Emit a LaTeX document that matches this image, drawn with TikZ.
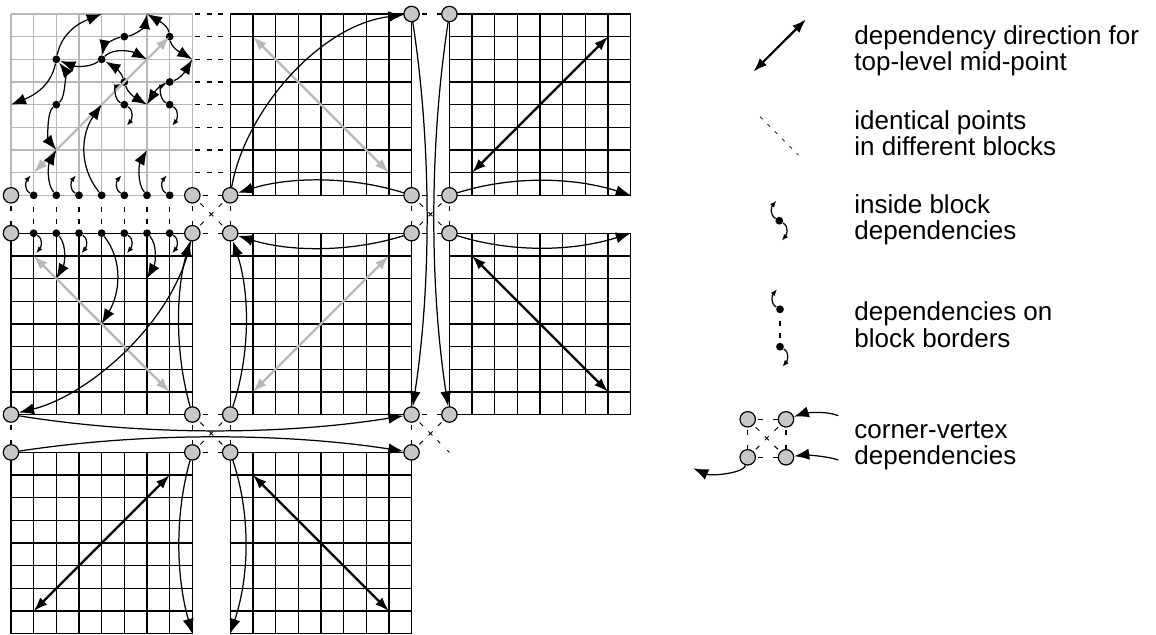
\documentclass[tikz,border=0pt]{standalone}
\usepackage{fontspec}
\setmainfont{Liberation Sans}
\usetikzlibrary{arrows.meta,shapes.misc,calc}
\definecolor{cfill}{gray}{0.78}
\definecolor{lgray}{gray}{0.72}
\begin{document}
\begin{tikzpicture}[x=0.5pt,y=-0.5pt,
  gridline/.style={line width=0.68pt},
  cvert/.style={circle,draw,line width=0.6pt,fill=cfill,minimum size=7.7pt,inner sep=0pt},
  bdot/.style={circle,fill=black,minimum size=3.9pt,inner sep=0pt},
  xmark/.style={cross out,draw,line width=0.4pt,minimum size=1.6pt,inner sep=0pt},
  dep/.style={line width=0.62pt,-{Latex[length=7.5pt,width=5.6pt]}},
  sdep/.style={line width=0.62pt,-{Latex[length=3.3pt,width=2.6pt]}},
  topdir/.style={line width=1.1pt,{Latex[length=7pt,width=5pt]}-{Latex[length=7pt,width=5pt]}},
  topdirg/.style={topdir,draw=lgray},
  rowdash/.style={line width=0.6pt,dash pattern=on 2.5pt off 3.35pt,dash phase=4.5pt},
  coldash/.style={line width=0.6pt,dash pattern=on 2.5pt off 3.5pt,dash phase=2.5pt},
  pairdash/.style={line width=0.6pt,dash pattern=on 0pt off 1pt on 2.5pt off 5pt on 2.5pt off 20pt},
  diagdash/.style={line width=0.5pt,dash pattern=on 0pt off 1.5pt on 2.5pt off 30pt},
  enddash/.style={line width=0.5pt,dash pattern=on 1.5pt off 5pt on 2pt off 20pt},
  legdash/.style={line width=0.4pt,dash pattern=on 1.8pt off 3.4pt},
  legtext/.style={anchor=base west,inner sep=0pt,font=\fontsize{13}{15}\selectfont},
]
\useasboundingbox (0,0) rectangle (1156,635);

% grid point coordinates of the blocks
\foreach \bx/\X in {0/11,1/230.2,2/449.4}
 \foreach \by/\Y in {0/14,1/233.2,2/452.4}
  \foreach \i in {0,...,8}
   \foreach \j in {0,...,8}
    \coordinate (p\bx\by-\i-\j) at ({\X+\i*22.667},{\Y+\j*22.667});

% grids
\foreach \X/\Y/\col in {11/14/lgray,230.2/14/black,449.4/14/black,11/233.2/black,230.2/233.2/black,449.4/233.2/black,11/452.4/black,230.2/452.4/black}
  \foreach \k in {0,...,8} {
    \draw[gridline,draw=\col] ({\X+\k*22.667},\Y) -- ({\X+\k*22.667},{\Y+181.336});
    \draw[gridline,draw=\col] (\X,{\Y+\k*22.667}) -- ({\X+181.336},{\Y+\k*22.667});
  }

% corner vertices
\foreach \n in {00-0-8,00-8-8,10-0-8,10-8-0,10-8-8,20-0-0,20-0-8,01-0-0,01-8-0,01-0-8,01-8-8,11-0-0,11-8-0,11-0-8,11-8-8,21-0-0,21-0-8,02-0-0,02-8-0,12-0-0,12-8-0}
  \node[cvert] (c\n) at (p\n) {};

% mid-points
\foreach \n in {5-1,7-1,4-2,2-2,5-3,7-3,2-4,5-4,7-4,1-8,2-8,3-8,4-8,5-8,6-8,7-8}
  \node[bdot] (d00-\n) at (p00-\n) {};
\foreach \i in {1,...,7}
  \node[bdot] (d01-\i-0) at (p01-\i-0) {};

% corner marks
\node[xmark] (x1) at ($(p00-8-8)!0.5!(p11-0-0)$) {};
\node[xmark] (x2) at ($(p10-8-8)!0.5!(p21-0-0)$) {};
\node[xmark] (x3) at ($(p01-8-8)!0.5!(p12-0-0)$) {};
\node[xmark] (x4) at ($(p11-8-8)!0.5!(p22-0-0)$) {};

% identical points
\foreach \j in {0,...,7} \draw[rowdash] (p00-8-\j) -- (p10-0-\j);
\foreach \i in {1,...,7} \draw[coldash] (d00-\i-8) -- (d01-\i-0);
\foreach \a/\b in {00-0-8/01-0-0,00-8-8/10-0-8,01-8-0/11-0-0,00-8-8/01-8-0,10-0-8/11-0-0,10-8-0/20-0-0,10-8-8/20-0-8,11-8-0/21-0-0,10-8-8/11-8-0,20-0-8/21-0-0,01-0-8/02-0-0,01-8-8/11-0-8,02-8-0/12-0-0,01-8-8/02-8-0,11-0-8/12-0-0,11-8-8/21-0-8,11-8-8/12-8-0}
  \draw[pairdash] (c\a) -- (c\b);
\foreach \a/\x in {00-8-8/x1,10-0-8/x1,01-8-0/x1,11-0-0/x1,10-8-8/x2,20-0-8/x2,11-8-0/x2,21-0-0/x2,01-8-8/x3,11-0-8/x3,02-8-0/x3,12-0-0/x3,11-8-8/x4,21-0-8/x4,12-8-0/x4}
  \draw[diagdash] (c\a) -- (\x);
\draw[enddash] (p22-0-0) -- (x4);

% top-level directions
\draw[topdirg] (p00-1-7) -- (p00-7-1);
\draw[topdirg] (p10-1-1) -- (p10-7-7);
\draw[topdir] (p20-1-7) -- (p20-7-1);
\draw[topdirg] (p01-1-1) -- (p01-7-7);
\draw[topdirg] (p11-1-7) -- (p11-7-1);
\draw[topdir] (p21-1-1) -- (p21-7-7);
\draw[topdir] (p02-1-7) -- (p02-7-1);
\draw[topdir] (p12-1-1) -- (p12-7-7);

% corner-vertex dependencies
\draw[dep] (c10-0-8) .. controls +(15,-85) and +(-91.5,11) .. (c10-8-0);
\draw[dep] (c10-8-8) .. controls +(-60,-19) and +(60,-19) .. (c10-0-8);
\draw[dep] (c20-0-8) .. controls +(60,-19) and +(-60,-19) .. (p20-8-8);
\draw[dep] (c21-0-0) .. controls +(60,19) and +(-60,19) .. (p21-8-0);
\draw[dep] (c11-8-0) .. controls +(-60,19) and +(60,19) .. (c11-0-0);
\draw[dep] (c11-0-8) .. controls +(20,-60) and +(20,60) .. (c11-0-0);
\draw[dep] (c01-8-8) .. controls +(-17,-60) and +(-17,60) .. (c01-8-0);
\draw[dep] (c01-8-0) .. controls +(-17,87) and +(79,-19.5) .. (c01-0-8);
\draw[dep] (c10-8-0) .. controls +(20,130) and +(20,-130) .. (c11-8-8);
\draw[dep] (c20-0-0) .. controls +(-20,130) and +(-20,-130) .. (c21-0-8);
\draw[dep] (c01-0-8) .. controls +(130,21) and +(-130,21) .. (c11-8-8);
\draw[dep] (c02-0-0) .. controls +(130,-20) and +(-130,-20) .. (c12-8-0);
\draw[dep] (c02-8-0) .. controls +(-17,60) and +(-17,-60) .. (p02-8-8);
\draw[dep] (c12-0-0) .. controls +(20,60) and +(20,-60) .. (p12-0-8);

% inside block dependencies (top-left block)
\draw[dep] (d00-5-1) .. controls +(12,-2) and +(-2,12) .. (p00-6-0);
\draw[dep] (d00-5-1) .. controls +(-12,2) and +(2,-12) .. (d00-4-2);
\draw[dep] (d00-7-1) .. controls +(-2,-12) and +(10,6) .. (p00-6-0);
\draw[dep] (d00-7-1) .. controls +(2,12) and +(-10,-6) .. (p00-8-2);
\draw[dep] (d00-4-2) .. controls +(-15,10) and +(15,6) .. (d00-2-2);
\draw[dep] (d00-4-2) .. controls +(12,-12) and +(-15,-8) .. (p00-6-2);
\draw[dep] (d00-2-2) .. controls +(5,-25) and +(-25,10) .. (p00-4-0);
\draw[dep] (d00-2-2) .. controls +(-5,25) and +(25,-10) .. (p00-0-4);
\draw[dep] (d00-5-3) .. controls +(-4,-12) and +(10,6) .. (d00-4-2);
\draw[dep] (d00-5-3) .. controls +(4,12) and +(-10,-6) .. (p00-6-4);
\draw[dep] (d00-7-3) .. controls +(12,-4) and +(-6,10) .. (p00-8-2);
\draw[dep] (d00-7-3) .. controls +(-12,4) and +(6,-10) .. (p00-6-4);
\draw[dep] (d00-2-4) .. controls +(10,-8) and +(8,10) .. (d00-2-2);
\draw[dep] (d00-2-4) .. controls +(-10,8) and +(-8,-10) .. (p00-2-6);
\draw[sdep] (d00-5-4) .. controls +(-10,-5) and +(-10,5) .. (d00-5-3);
\draw[sdep] (d00-7-4) .. controls +(-10,-5) and +(-10,5) .. (d00-7-3);
\coordinate (td54) at ($(p00-5-4)+(2.5,21)$);
\coordinate (td74) at ($(p00-7-4)+(2.5,21)$);
\draw[sdep] (d00-5-4) .. controls +(10,6) and +(5,-6) .. (td54);
\draw[sdep] (d00-7-4) .. controls +(10,6) and +(5,-6) .. (td74);

% dependencies on block borders
\draw[dep] (d00-2-8) .. controls +(-10,-12) and +(-8,14) .. (p00-2-6);
\draw[dep] (d00-4-8) .. controls +(-24,-30) and +(-20,28) .. (p00-4-4);
\draw[dep] (d00-6-8) .. controls +(-10,-12) and +(-8,14) .. (p00-6-6);
\draw[dep] (d01-2-0) .. controls +(11,12) and +(8,-14) .. (p01-2-2);
\draw[dep] (d01-4-0) .. controls +(22,28) and +(18,-30) .. (p01-4-4);
\draw[dep] (d01-6-0) .. controls +(11,12) and +(8,-14) .. (p01-6-2);
\foreach \i in {1,3,5,7} {
  \coordinate (tu\i) at ($(p00-\i-8)+(-3,-20)$);
  \coordinate (td\i) at ($(p01-\i-0)+(2.5,20)$);
  \draw[sdep] (d00-\i-8) .. controls +(-10,-6) and +(-5,6) .. (tu\i);
  \draw[sdep] (d01-\i-0) .. controls +(10,6) and +(5,-6) .. (td\i);
}

% ---------------- legend ----------------
\coordinate (lg1a) at (753.3,71.7);
\coordinate (lg1b) at (806,19.3);
\draw[topdir] (lg1a) -- (lg1b);
\node[legtext] (t1a) at (854,44.3) {dependency direction for};
\node[legtext] (t1b) at (854,70.8) {top-level mid-point};

\coordinate (lg2a) at (760,116.7);
\coordinate (lg2b) at (798.3,155);
\draw[legdash] (lg2a) -- (lg2b);
\node[legtext] (t2a) at (854,129.3) {identical points};
\node[legtext] (t2b) at (854,156) {in different blocks};

\node[bdot] (lg3) at (779.3,220.7) {};
\coordinate (lg3u) at ($(lg3)+(-3,-20)$);
\coordinate (lg3d) at ($(lg3)+(2.5,20)$);
\draw[sdep] (lg3) .. controls +(-10,-6) and +(-5,6) .. (lg3u);
\draw[sdep] (lg3) .. controls +(10,6) and +(5,-6) .. (lg3d);
\node[legtext] (t3a) at (854,213.3) {inside block};
\node[legtext] (t3b) at (854,240) {dependencies};

\node[bdot] (lg4a) at (780,309.3) {};
\node[bdot] (lg4b) at (780,346.7) {};
\coordinate (lg4u) at ($(lg4a)+(-3,-20)$);
\coordinate (lg4d) at ($(lg4b)+(2.5,20)$);
\draw[coldash] (lg4a) -- (lg4b);
\draw[sdep] (lg4a) .. controls +(-10,-6) and +(-5,6) .. (lg4u);
\draw[sdep] (lg4b) .. controls +(10,6) and +(5,-6) .. (lg4d);
\node[legtext] (t4a) at (854,321) {dependencies on};
\node[legtext] (t4b) at (854,347.7) {block borders};

\node[cvert] (lg5a) at (747.7,419.3) {};
\node[cvert] (lg5b) at (786,419.3) {};
\node[cvert] (lg5c) at (747.7,457.3) {};
\node[cvert] (lg5d) at (786,457.3) {};
\node[xmark] (lg5x) at (766.85,438.3) {};
\foreach \a/\b in {a/b,c/d,a/c,b/d} \draw[pairdash] (lg5\a) -- (lg5\b);
\foreach \a in {a,b,c,d} \draw[diagdash] (lg5\a) -- (lg5x);
\coordinate (lg5s1) at (838.3,415.7);
\coordinate (lg5s2) at (838.3,460);
\coordinate (lg5e) at (693.3,468.3);
\draw[dep] (lg5s1) .. controls +(-15,-6) and +(15,-5) .. (lg5b);
\draw[dep] (lg5s2) .. controls +(-15,-5) and +(15,-2) .. (lg5d);
\draw[dep] (lg5c) .. controls +(-4,16) and +(18,8) .. (lg5e);
\node[legtext] (t5a) at (854,438.3) {corner-vertex};
\node[legtext] (t5b) at (854,464.3) {dependencies};
\end{tikzpicture}
\end{document}
